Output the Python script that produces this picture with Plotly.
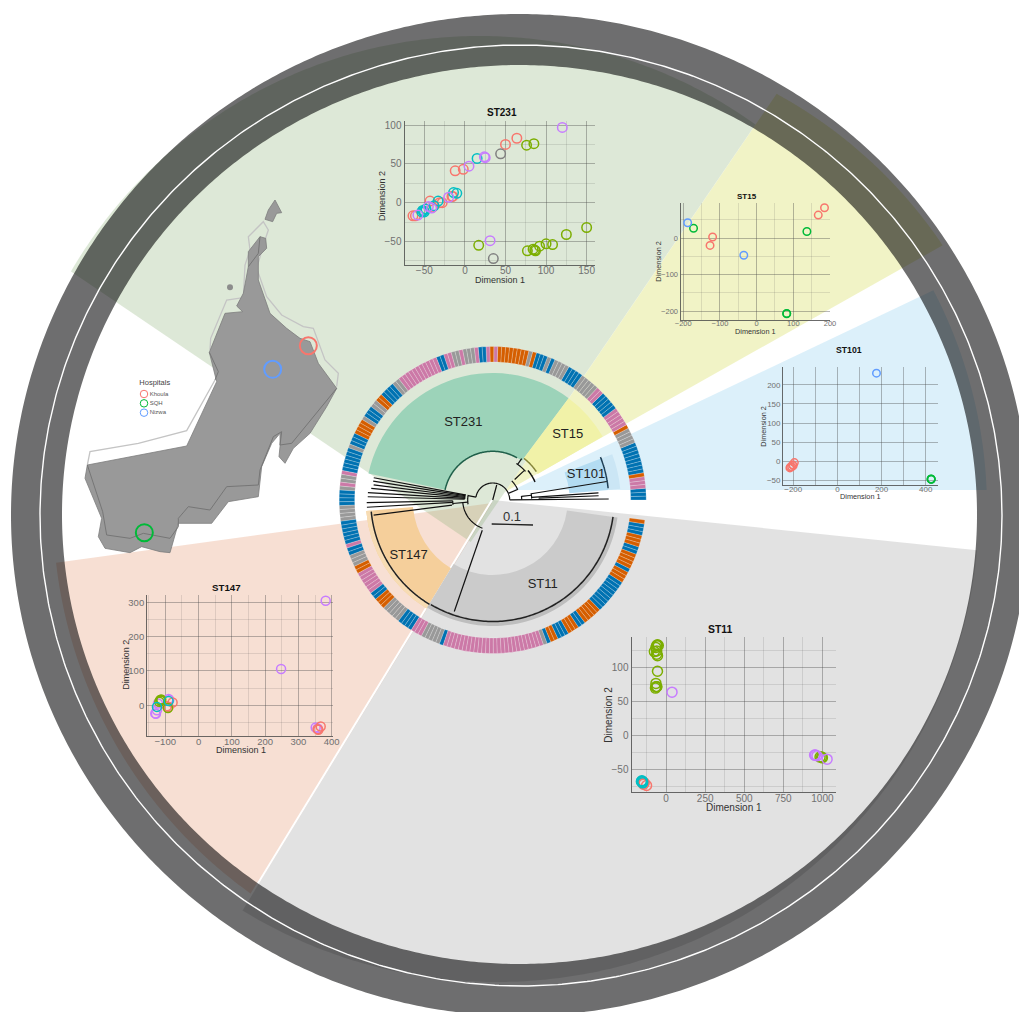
import numpy as np
import plotly.graph_objects as go

W, H = 1019, 1012
RED, OLIVE, CYAN, PURPLE, GREY = "#F8766D", "#7CAE00", "#00BFC4", "#C77CFF", "#808080"
HRED, HGREEN, HBLUE = "#F8766D", "#00BA38", "#619CFF"

# ---------------- data: scatter panels ----------------
st231_red_x = [-64, -61, -43, -40, -31, -28, -16, -15, -12, -2, 50, 64]
st231_red_y = [-17, -17, 2, -6, 0, 0, 8, 8, 41, 43, 75, 83]
st231_olive_x = [76, 85, 17, 77, 84, 86, 87, 92, 100, 108, 125, 150]
st231_olive_y = [74, 76, -55, -62, -60, -61, -62, -56, -53, -54, -41, -32]
st231_cyan_x = [15, -14, -10, -33, -38, -48, -51, -53, -50, -52]
st231_cyan_y = [57, 13, 12, 2, -4, -8, -11, -12, -12, -10]
st231_purple_x = [24, 25, 5, 120, 31, -20, -41, -58, -45]
st231_purple_y = [59, 58, 47, 97, -49, 7, -7, -16, -5]
st231_grey_x = [44, 35]
st231_grey_y = [63, -72]

st15_red_x = [185, 168, -120, -127]
st15_red_y = [83, 63, 3, -20]
st15_green_x = [-172, 137, 82, 82]
st15_green_y = [27, 18, -207, -206]
st15_blue_x = [-188, -35]
st15_blue_y = [42, -47]

st101_red_x = [-195, -203, -207, -215, -213, -200]
st101_red_y = [-4, -10, -15, -18, -16, -12]
st101_green_x = [425, 425, 424]
st101_green_y = [-48, -48, -47]
st101_blue_x = [177]
st101_blue_y = [231]

st147_purple_x = [382, 248, 352, 358, -128, -130, -125, -90, -88, -122]
st147_purple_y = [305, 106, -65, -68, -25, -24, -15, 18, 15, 5]
st147_red_x = [367, 358, 360, -78, -90, -95]
st147_red_y = [-62, -70, -72, 8, -5, -3]
st147_olive_x = [-115, -113, -112, -118, -92]
st147_olive_y = [15, 13, 17, 10, -8]
st147_cyan_x = [-125, -90]
st147_cyan_y = [-5, 12]

st11_olive_x = [-60, -55, -65, -50, -60, -75, -60, -55, -55, -65, -65, -60, -68, -60, 985, 995, 1000]
st11_olive_y = [133, 134, 130, 133, 125, 124, 120, 118, 95, 77, 72, 72, 70, 72, -32, -32, -33]
st11_purple_x = [38, 950, 955, 965, 1030]
st11_purple_y = [64, -29, -29, -30, -35]
st11_red_x = [-125, -140, -145, -150]
st11_red_y = [-74, -70, -72, -70]
st11_cyan_x = [-155, -150, -158, -150]
st11_cyan_y = [-67, -70, -68, -68]

# ---------------- data: ring of isolates (category, run length), anticlockwise ----------------
ring_cat = ["b","p","o","b","g","o","p","b","p","g","b","g","b","g","b","o","g","o","p","o","p","b","p",
            "g","p","g","p","b","p","g","b","o","g","b","g","o","b","g","b","p","g","p","g","b","g","b","p",
            "b","g","o","p","b","o","g","b","p","g","b","p","g","b","o","b","o","b","o","b","o","b","o","b",
            "o","b","o"]
ring_run = [3,3,1,8,4,1,5,5,2,5,4,4,1,1,3,1,1,8,1,1,1,2,1,
            3,1,2,2,2,11,2,4,2,2,3,1,4,3,1,6,1,2,1,1,4,4,6,1,
            2,3,2,6,2,3,5,4,3,5,1,26,1,1,2,3,3,2,5,9,3,1,4,2,3,3,1]
ring_colors = {"b": "#0072B2", "o": "#D55E00", "p": "#CC79A7", "g": "#999999"}

# ---------------- data: clade sectors ----------------
sector_names = ["ST231", "ST15", "ST101", "ST101 outer", "ST147", "ST147 outer", "ST11", "ST11 outer"]
sector_inner = [49, 52, 77, 116, 80, 121, 75, 120]
sector_outer = [127, 127, 116, 128, 127, 127, 120, 126]
sector_from = [53.3, 30, 5, 5, 185, 185, 238.6, 238.6]
sector_to = [168, 53.3, 21, 21, 238.6, 238.6, 352, 352]
sector_color = ["#9CD3B9", "#F1F2A8", "#B3DCF2", "#CBE6F5", "#F5CF9B", "#F7DCB3", "#CBCBCB", "#BEBEBE"]

label_text = ["ST231", "ST15", "ST101", "ST147", "ST11"]
label_r = [83, 99.7, 96.8, 101, 98]
label_t = [110.7, 41.2, 15.4, 213.6, 300.7]

# ---------------- data: tree (arcs and spokes) ----------------
arc_r = [17, 27, 43.5, 29, 39, 25, 28, 40, 30, 17]
arc_from = [23, 22, 41, 0.5, 2, 168, 168, 181, 185, 0.5]
arc_to = [170, 45, 57, 8, 10, 190, 178, 187, 250, 23]
spoke_r0 = [0, 17, 30, 43.5, 29, 17, 39, 46, 39, 17, 25, 28, 28, 28, 28, 28, 28, 40, 40, 41, 32]
spoke_r1 = [15.5, 27, 43, 50.5, 39, 116, 115.7, 106, 106, 25, 40, 121, 121, 120, 122, 125, 125, 126, 126, 120, 118]
spoke_t = [75, 23, 43, 55, 7, 0.5, 9.2, 2.3, 3.9, 170, 185, 169.4, 171, 172.8, 174.5, 176.6, 178.5, 181.2, 183.3, 187.2, 251]
clade_arc_r = [48.7, 52, 46, 116, 122, 121.5]
clade_arc_from = [60, 33, 23, 5.8, 185.5, 239.4]
clade_arc_to = [168, 53, 40, 21.7, 238.8, 352]
clade_arc_color = ["#1F5F4A", "#85853A", "#111111", "#1F3F55", "#222222", "#222222"]

# ---------------- data: map outline (map units) ----------------
oman_x = [22,320,410,388,435,488,470,490,505,505,540,557,560,535,535,570,620,660,690,715,770,740,690,640,615,597,600,600,575,545,535,445,395,295,270,240,185,150,75,55,65,15,22]
oman_y = [825,768,575,487,370,365,348,310,230,185,140,145,175,200,270,370,415,445,455,520,595,650,730,775,820,800,770,730,760,830,920,935,1000,1000,1088,1085,1070,1088,1075,1040,985,865,825]
musandam_x = [585,600,605,590,578,555,565,585]
musandam_y = [30,60,68,70,95,88,60,30]
fold_x = [22,68,80,150,190,270,295,295,325,390,440,535,540,580,605,600,635,770,None,388,415,405,None,540,535,505]
fold_y = [825,965,1035,1045,1030,1045,1010,985,950,960,890,885,840,740,725,765,760,595,None,487,545,570,None,140,190,230]
shadow_x = [22,30,175,320,405,None,390,392,440,495,None,490,495,510,505,550,565,555,530,560,605,670,700,735,775,770]
shadow_y = [825,785,760,722,570,None,480,445,330,322,None,322,225,180,140,95,120,150,235,320,375,410,415,510,550,590]
island_x = [450]
island_y = [292]
hospital_names = ["Khoula", "SQH", "Nizwa"]
hospital_colors = [HRED, HGREEN, HBLUE]
hospital_x = [685, 193, 578]
hospital_y = [467, 1028, 538]
legend_x = [192, 192, 192]
legend_y = [612, 640, 668]

# ---------------- geometry helpers ----------------
def ellipse(c, rx, ry, n=720):
    t = np.linspace(0, 2 * np.pi, n)
    return c[0] + rx * np.cos(t), c[1] + ry * np.sin(t)

def wedge(apex, a0, a1, c, rx, ry, n=200):
    xs, ys = [apex[0]], [apex[1]]
    for a in np.radians(np.linspace(a0, a1, n)):
        dx, dy = np.cos(a), -np.sin(a)
        ox, oy = apex[0] - c[0], apex[1] - c[1]
        A = (dx / rx) ** 2 + (dy / ry) ** 2
        B = 2 * (ox * dx / rx ** 2 + oy * dy / ry ** 2)
        C = (ox / rx) ** 2 + (oy / ry) ** 2 - 1
        r = (-B + np.sqrt(B * B - 4 * A * C)) / (2 * A)
        xs.append(apex[0] + r * dx)
        ys.append(apex[1] + r * dy)
    xs.append(apex[0]); ys.append(apex[1])
    return xs, ys

fig = go.Figure()

def bg(x, y, **kw):
    fig.add_trace(go.Scatter(x=x, y=y, xaxis="x", yaxis="y", hoverinfo="skip", showlegend=False, **kw))

# ---- wedges ----
wedges = [((492, 503), 187.8, 238.5, (526, 509), 473, 473, "rgba(228,148,108,0.3)"),
          ((492, 500), 238.6, 354.1, (497, 508), 482, 474, "rgba(158,158,158,0.3)"),
          ((470.7, 542), 55.7, 145.9, (480, 509), 473, 473, "rgba(142,178,122,0.3)"),
          ((505, 492), 29.4, 55.7, (550, 509), 473, 473, "rgba(208,215,65,0.3)"),
          ((513, 490), 0, 25.4, (514, 509), 473, 473, "rgba(138,205,238,0.3)")]
for apex, a0, a1, c, rx, ry, col in wedges:
    xs, ys = wedge(apex, a0, a1, c, rx, ry)
    bg(xs, ys, mode="none", fill="toself", fillcolor=col)
xs, ys = wedge((492, 500), 238.6, 238.6, (497, 508), 482, 474, n=1)
bg(xs[:2], ys[:2], mode="lines", line=dict(color="white", width=2))

# ---- outer ring ----
ox, oy = ellipse((520, 515), 509, 501)
ix, iy = ellipse((519.5, 514.5), 457.5, 449.5)
bg(np.r_[ox, ix[::-1]], np.r_[oy, iy[::-1]], mode="none", fill="toself", fillcolor="rgba(0,0,2,0.57)")
wx, wy = ellipse((521, 515.5), 481, 470.5)
bg(wx, wy, mode="lines", line=dict(color="white", width=1.4))

# ---- scale bar ----
bg([491.7, 533], [524, 525], mode="lines", line=dict(color="#222222", width=1.3))

# ---- map ----
def mp(x, y, **kw):
    fig.add_trace(go.Scatter(x=x, y=y, xaxis="x2", yaxis="y2", hoverinfo="skip", showlegend=False, **kw))

mp(shadow_x, shadow_y, mode="lines", line=dict(color="#C4C4C4", width=1.3))
mp(oman_x, oman_y, mode="lines", fill="toself", fillcolor="#999999", line=dict(color="#7D7D7D", width=0.8))
mp(musandam_x, musandam_y, mode="lines", fill="toself", fillcolor="#999999", line=dict(color="#7D7D7D", width=0.8))
mp(fold_x, fold_y, mode="lines", line=dict(color="#767676", width=1))
mp(island_x, island_y, mode="markers", marker=dict(color="#8C8C8C", size=6))
for n, c, x, y in zip(hospital_names, hospital_colors, hospital_x, hospital_y):
    mp([x], [y], mode="markers", marker=dict(symbol="circle-open", color=c, size=17, line=dict(width=2, color=c)))
for n, c, x, y in zip(hospital_names, hospital_colors, legend_x, legend_y):
    mp([x], [y], mode="markers+text", text=[n], textposition="middle right",
       textfont=dict(family="Liberation Sans", size=6, color="#555555"),
       marker=dict(symbol="circle-open", color=c, size=7.5, line=dict(width=1, color=c)))
mp([178], [579], mode="text", text=["Hospitals"], textposition="middle right",
   textfont=dict(family="Liberation Sans", size=7.5, color="#444444"))

# ---- inset scatter panels ----
panels = [
    dict(title="ST231", box=(404.7, 595, 120.7, 265), xr=(-74.2, 160.3), yr=(-80.3, 105.6), dx=50, dy=50,
         tick=10, ttl=10, axt=9, ms=9.5, tpos=(501.7, 112.7), xt=(500, 280), yt=(382, 196),
         xminor=0.14, yminor=0.14,
         series=[(st231_red_x, st231_red_y, RED), (st231_olive_x, st231_olive_y, OLIVE),
                 (st231_cyan_x, st231_cyan_y, CYAN), (st231_purple_x, st231_purple_y, PURPLE),
                 (st231_grey_x, st231_grey_y, GREY)]),
    dict(title="ST15", box=(680.7, 830, 203, 320), xr=(-207, 200), yr=(-224, 96), dx=100, dy=100,
         tick=7.5, ttl=8, axt=7.3, ms=7.5, tpos=(746.7, 196.7), xt=(755, 331.7), yt=(659, 261.7),
         xminor=0.14, yminor=0.14,
         series=[(st15_red_x, st15_red_y, HRED), (st15_green_x, st15_green_y, HGREEN),
                 (st15_blue_x, st15_blue_y, HBLUE)]),
    dict(title="ST101", box=(783.3, 938.3, 366.7, 485), xr=(-245, 457), yr=(-63, 248), dx=200, dy=50,
         tick=8, ttl=8.7, axt=7.3, ms=7.5, tpos=(848.7, 350.3), xt=(860.7, 496.7), yt=(764, 426.7),
         xminor=0.35, yminor=0,
         series=[(st101_red_x, st101_red_y, HRED), (st101_green_x, st101_green_y, HGREEN),
                 (st101_blue_x, st101_blue_y, HBLUE)]),
    dict(title="ST147", box=(147.3, 333, 595, 736), xr=(-154, 404), yr=(-90, 322), dx=100, dy=100,
         tick=9.5, ttl=9.7, axt=9, ms=9, tpos=(226.7, 587), xt=(240.7, 750), yt=(125.7, 665),
         xminor=0.14, yminor=0.14,
         series=[(st147_purple_x, st147_purple_y, PURPLE), (st147_red_x, st147_red_y, RED),
                 (st147_olive_x, st147_olive_y, OLIVE), (st147_cyan_x, st147_cyan_y, CYAN)]),
    dict(title="ST11", box=(631.7, 836, 636.7, 792.3), xr=(-220, 1087), yr=(-84, 146), dx=250, dy=50,
         tick=10, ttl=10.4, axt=10, ms=10, tpos=(720, 629), xt=(734, 807.7), yt=(607.7, 715),
         xminor=0.14, yminor=0.14,
         series=[(st11_olive_x, st11_olive_y, OLIVE), (st11_purple_x, st11_purple_y, PURPLE),
                 (st11_red_x, st11_red_y, RED), (st11_cyan_x, st11_cyan_y, CYAN)]),
]

layout_axes = {}
annotations = []
hidden = dict(visible=False, fixedrange=True, automargin=False)
layout_axes["xaxis"] = dict(range=[0, W], domain=[0, 1], anchor="y", **hidden)
layout_axes["yaxis"] = dict(range=[H, 0], domain=[0, 1], anchor="x", **hidden)
layout_axes["xaxis2"] = dict(range=[0, 810], domain=[80 / W, 350 / W], anchor="y2", **hidden)
layout_axes["yaxis2"] = dict(range=[1110, 0], domain=[1 - 560 / H, 1 - 190 / H], anchor="x2", **hidden)

def label(text, x, y, size, color, angle=0):
    annotations.append(dict(text=text, xref="paper", yref="paper", x=x / W, y=1 - y / H, xanchor="center", yanchor="middle",
                            showarrow=False, textangle=angle, font=dict(family="Liberation Sans", size=size, color=color)))

for i, p in enumerate(panels):
    k = i + 3
    x0, x1, y0, y1 = p["box"]
    for s in p["series"]:
        fig.add_trace(go.Scatter(x=s[0], y=s[1], xaxis=f"x{k}", yaxis=f"y{k}", mode="markers", showlegend=False,
                                 hoverinfo="skip",
                                 marker=dict(symbol="circle-open", size=p["ms"], color=s[2], line=dict(width=1.5, color=s[2]))))
    ax = dict(showgrid=True, gridcolor="rgba(70,70,70,0.38)", gridwidth=1.1, zeroline=False, showline=True,
              linecolor="rgba(70,70,70,0.8)", linewidth=1.4, ticks="", fixedrange=True, automargin=False,
              tickfont=dict(family="Liberation Sans", size=p["tick"], color="#707070"))
    layout_axes[f"xaxis{k}"] = dict(ax, domain=[x0 / W, x1 / W], range=list(p["xr"]), anchor=f"y{k}", dtick=p["dx"], tick0=0,
                                    ticklabelstandoff=-4,
                                    minor=dict(dtick=p["dx"] / 2, tick0=0, showgrid=True, gridwidth=1,
                                               gridcolor=f"rgba(70,70,70,{p['xminor']})"))
    layout_axes[f"yaxis{k}"] = dict(ax, domain=[1 - y1 / H, 1 - y0 / H], range=list(p["yr"]), anchor=f"x{k}", dtick=p["dy"], tick0=0,
                                    minor=dict(dtick=p["dy"] / 2, tick0=0, showgrid=p["yminor"] > 0, gridwidth=1,
                                               gridcolor=f"rgba(70,70,70,{p['yminor']})"))
    label(f"<b>{p['title']}</b>", p["tpos"][0], p["tpos"][1], p["ttl"], "#111111")
    label("Dimension 1", p["xt"][0], p["xt"][1], p["axt"], "#333333")
    label("Dimension 2", p["yt"][0], p["yt"][1], p["axt"], "#333333", angle=-90)

label("0.1", 511.7, 516, 13, "#333333")

# ---- polar group: sectors, isolate ring, tree ----
for nm, r0, r1, a, b, c in zip(sector_names, sector_inner, sector_outer, sector_from, sector_to, sector_color):
    fig.add_trace(go.Barpolar(r=[r1 - r0], base=[r0], theta=[(a + b) / 2], width=[b - a], subplot="polar",
                              marker=dict(color=c, line=dict(width=0)), hoverinfo="skip", showlegend=False, name=nm))

cells = [c for c, n in zip(ring_cat, ring_run) for _ in range(n)]
step = 352.5 / len(cells)
fig.add_trace(go.Barpolar(r=[15.5] * len(cells), base=[138] * len(cells),
                          theta=[(i + 0.5) * step for i in range(len(cells))], width=[step] * len(cells),
                          subplot="polar", hoverinfo="skip", showlegend=False,
                          marker=dict(color=[ring_colors[c] for c in cells],
                                      line=dict(color="rgba(255,255,255,0.45)", width=0.5))))

def tree_line(r, t, color="#111111", width=1.2):
    fig.add_trace(go.Scatterpolar(r=r, theta=t, mode="lines", subplot="polar", hoverinfo="skip", showlegend=False,
                                  line=dict(color=color, width=width)))

for r, a, b in zip(arc_r, arc_from, arc_to):
    t = np.linspace(a, b, 60)
    tree_line([r] * 60, t)
for r0, r1, t in zip(spoke_r0, spoke_r1, spoke_t):
    tree_line([r0, r1], [t, t])
for r, a, b, c in zip(clade_arc_r, clade_arc_from, clade_arc_to, clade_arc_color):
    t = np.linspace(a, b, 120)
    tree_line([r] * 120, t, color=c, width=1.5)

fig.add_trace(go.Scatterpolar(r=label_r, theta=label_t, text=label_text, mode="text", subplot="polar", hoverinfo="skip",
                              showlegend=False, textfont=dict(family="Liberation Sans", size=13, color="#222222")))

CX, CY, R = 492.7, 500, 155
fig.update_layout(
    width=W, height=H, autosize=False, margin=dict(l=0, r=0, t=0, b=0, pad=0),
    paper_bgcolor="white", plot_bgcolor="rgba(0,0,0,0)", showlegend=False,
    annotations=annotations,
    polar=dict(domain=dict(x=[(CX - R) / W, (CX + R) / W], y=[1 - (CY + R) / H, 1 - (CY - R) / H]),
               bgcolor="rgba(0,0,0,0)", barmode="overlay",
               radialaxis=dict(visible=False, range=[0, R]),
               angularaxis=dict(visible=False, direction="counterclockwise", rotation=0, thetaunit="degrees")),
    **layout_axes,
)
fig.write_html("out.html", post_script="document.body.style.margin='0';", config={"displayModeBar": False})
